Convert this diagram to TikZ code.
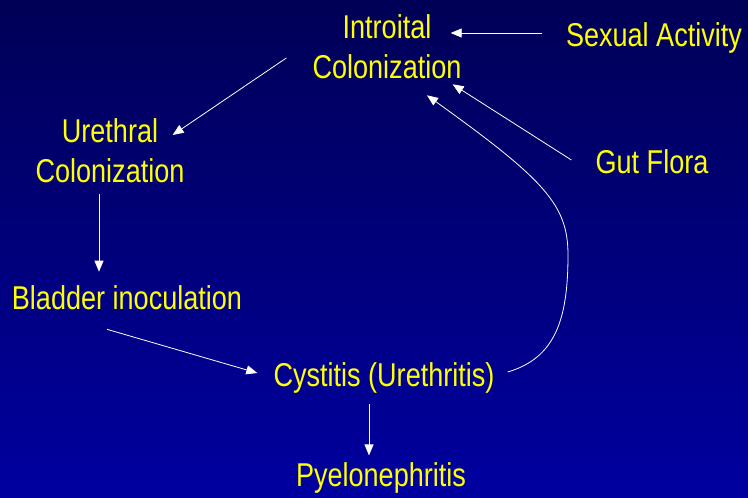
\documentclass[tikz,border=0pt]{standalone}
\usepackage{fontspec}
\setmainfont{Liberation Sans}[FakeStretch=0.82]
\usepackage{tikz}
\usetikzlibrary{arrows.meta, positioning, calc}

\definecolor{slidetop}{RGB}{0,0,86}
\definecolor{slidebot}{RGB}{0,0,160}
\definecolor{slidetext}{RGB}{255,255,0}

\begin{document}
\begin{tikzpicture}[
    x=1pt, y=-1pt,
    stage/.style={text=slidetext, inner sep=0pt, align=center,
                  font=\fontsize{33}{40}\selectfont},
    arr/.style={-{Triangle[length=11pt, width=9pt]}, white, line width=0.8pt}
  ]
  % Background
  \shade[top color=slidetop, bottom color=slidebot] (0,0) rectangle (748,498);
  \useasboundingbox (0,0) rectangle (748,498);
  % Stages
  \node[stage] (intro) at (387,47) {Introital\\Colonization};
  \node[stage] (sex) at (654,38) {Sexual Activity};
  \node[stage] (ureth) at (110,151) {Urethral\\Colonization};
  \node[stage] (gut) at (652,162) {Gut Flora};
  \node[stage] (bladder) at (127,298) {Bladder inoculation};
  \node[stage] (cyst) at (384,378) {Cystitis (Urethritis)};
  \node[stage] (pyelo) at (381,478) {Pyelonephritis};
  % Arrows
  \draw[arr] ([xshift=-24pt, yshift=5pt]sex.west) -- ([xshift=-11pt, yshift=14pt]intro.east);
  \draw[arr] ([xshift=-26pt, yshift=-11pt]intro.west) -- ([xshift=-12pt, yshift=16pt]ureth.east);
  \draw[arr] ([xshift=-11pt, yshift=-11pt]ureth.south) -- ([xshift=-28pt, yshift=14pt]bladder.north);
  \draw[arr] ([xshift=-20pt, yshift=-19pt]bladder.south) -- ([xshift=-16pt, yshift=5pt]cyst.west);
  \draw[arr] ([xshift=-15pt, yshift=-10pt]cyst.south) -- ([xshift=-12pt, yshift=7pt]pyelo.north);
  \draw[arr] ([xshift=-24pt, yshift=2pt]gut.west) -- ([xshift=-9pt, yshift=-5pt]intro.south east);
  % Back loop
  \coordinate (bend) at (568,255);
  \draw[arr] ([xshift=13pt, yshift=6pt]cyst.east)
    .. controls (555,358) and (568,320) .. (bend)
    .. controls (568,205) and (545,180) .. ([xshift=40pt, yshift=-16pt]intro.south);
\end{tikzpicture}
\end{document}
